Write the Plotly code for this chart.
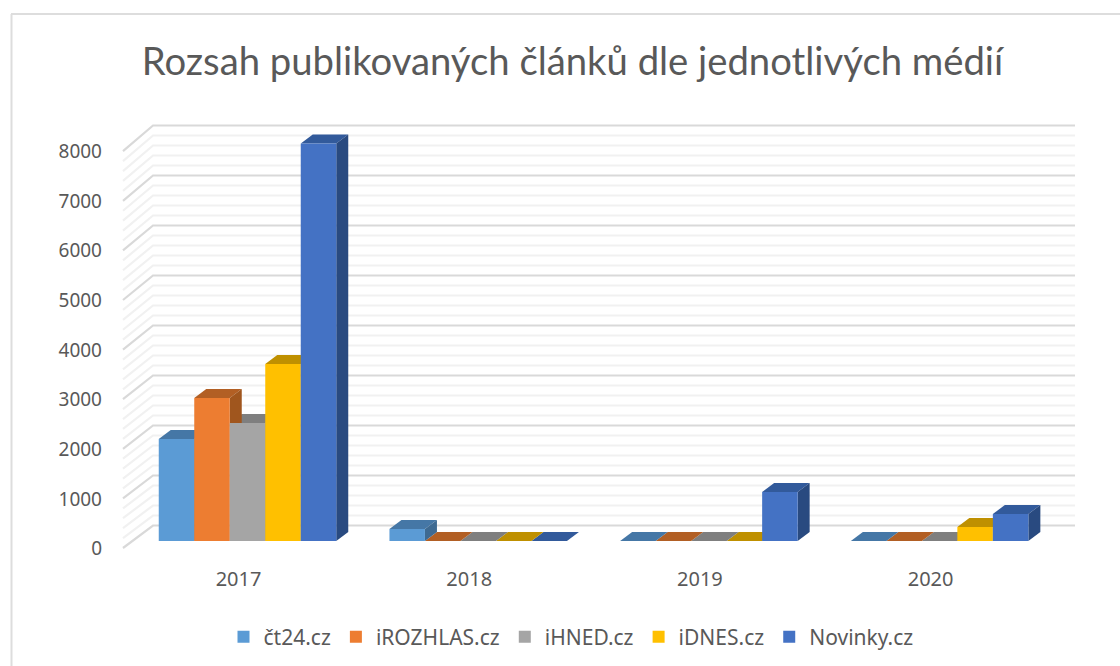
import plotly.graph_objects as go

years = ["2017", "2018", "2019", "2020"]
series_names = ["čt24.cz", "iROZHLAS.cz", "iHNED.cz", "iDNES.cz", "Novinky.cz"]
ct24 = [2040, 240, 0, 0]
irozhlas = [2860, 0, 0, 0]
ihned = [2360, 0, 0, 0]
idnes = [3540, 0, 0, 280]
novinky = [7950, 0, 980, 540]
all_values = [ct24, irozhlas, ihned, idnes, novinky]

front_colors = ["#5B9BD5", "#ED7D31", "#A5A5A5", "#FFC000", "#4472C4"]
top_colors = ["#4577A6", "#B25F24", "#7F7F7F", "#BF9000", "#325A9B"]
side_colors = ["#3E6A92", "#A0561E", "#727272", "#AB8200", "#294A80"]
y_ticks = list(range(0, 9000, 1000))
minor_ticks = [v for v in range(0, 8200, 200) if v % 1000]

W, H = 1120, 666
X0, DX = 238.5, 230.7           # pixel of first category, pixels per category
Y0, SY = 541.0, 0.05            # pixel of value 0 on the front plane, pixels per unit
BAR_W = 35.5 / DX
BAR_SHIFT = 9.0 / DX
DEPTH_X = 12 / DX
DEPTH_Y = 9 / SY
x_range = [-X0 / DX, (W - X0) / DX]
y_range = [(Y0 - H) / SY, Y0 / SY]

WALL_L = (123 - X0) / DX
WALL_B = (153 - X0) / DX
WALL_R = (1075 - X0) / DX
BACK_OFF = (Y0 - 525.5) / SY
FRONT_OFF = (Y0 - 548) / SY
FRONT_K = 0.992

TEXT = "#595959"
FONT = "Noto Sans"


def lines(vals):
    xs, ys = [], []
    for v in vals:
        xs += [WALL_L, WALL_B, WALL_R, None]
        ys += [FRONT_OFF + FRONT_K * v, BACK_OFF + v, BACK_OFF + v, None]
    return xs, ys


fig = go.Figure()
for vals, col in ((minor_ticks, "#F1F1F1"), (y_ticks, "#D9D9D9")):
    xs, ys = lines(vals)
    fig.add_trace(go.Scatter(x=xs, y=ys, mode="lines", line=dict(color=col, width=2.2),
                             showlegend=False, hoverinfo="skip"))

# top and side faces, painted from right to left
for s in range(4, -1, -1):
    for c in range(len(years)):
        v = all_values[s][c]
        left = c + BAR_SHIFT + (s - 2.5) * BAR_W
        right = left + BAR_W
        fig.add_trace(go.Scatter(
            x=[left, right, right + DEPTH_X, left + DEPTH_X, left],
            y=[v, v, v + DEPTH_Y, v + DEPTH_Y, v],
            mode="lines", fill="toself", fillcolor=top_colors[s], line=dict(width=0),
            showlegend=False, hoverinfo="skip"))
        if v > 0:
            fig.add_trace(go.Scatter(
                x=[right, right + DEPTH_X, right + DEPTH_X, right, right],
                y=[0, DEPTH_Y, v + DEPTH_Y, v, 0],
                mode="lines", fill="toself", fillcolor=side_colors[s], line=dict(width=0),
                showlegend=False, hoverinfo="skip"))

# front faces
for s, name in enumerate(series_names):
    fig.add_trace(go.Bar(
        x=list(range(len(years))), y=all_values[s], name=name,
        width=BAR_W, offset=BAR_SHIFT + (s - 2.5) * BAR_W,
        marker=dict(color=front_colors[s], line=dict(width=0)),
        xaxis="x2", yaxis="y2"))

# invisible carrier for the tick-label axis
fig.add_trace(go.Scatter(x=[0], y=[0], yaxis="y3", mode="markers", marker=dict(opacity=0),
                         showlegend=False, hoverinfo="skip"))

LBL_Y0, LBL_SY = 548.5, 0.049625
fig.update_layout(
    width=W, height=H, autosize=False,
    margin=dict(l=0, r=0, t=0, b=0),
    paper_bgcolor="white", plot_bgcolor="rgba(0,0,0,0)",
    barmode="overlay",
    font=dict(family=FONT, color=TEXT, size=19),
    title=dict(text="Rozsah publikovaných článků dle jednotlivých médií",
               x=572.5 / W, xanchor="center", y=1 - 62 / H, yanchor="middle",
               font=dict(family="Lato", size=38.25, color=TEXT)),
    xaxis=dict(range=x_range, tickmode="array", tickvals=list(range(len(years))), ticktext=years,
               showgrid=False, zeroline=False, showline=False, ticks="",
               anchor="free", position=1 - 565 / H, tickfont=dict(size=20, color=TEXT)),
    yaxis=dict(range=y_range, visible=False, fixedrange=True),
    xaxis2=dict(range=x_range, overlaying="x", visible=False),
    yaxis2=dict(range=y_range, overlaying="y", visible=False),
    yaxis3=dict(range=[(LBL_Y0 - H) / LBL_SY, LBL_Y0 / LBL_SY], overlaying="y",
                tickmode="array", tickvals=y_ticks, showgrid=False, zeroline=False,
                showline=False, ticks="", anchor="free", position=102 / W, side="left",
                tickfont=dict(size=19, color=TEXT)),
    legend=dict(orientation="h", x=571 / W, xanchor="center", y=1 - 637 / H, yanchor="middle",
                font=dict(size=21, color=TEXT), traceorder="normal"),
    shapes=[
        dict(type="line", xref="paper", yref="paper", x0=11.5 / W, x1=11.5 / W, y0=0, y1=1 - 14 / H,
             line=dict(color="#DDDDDD", width=2)),
        dict(type="line", xref="paper", yref="paper", x0=11 / W, x1=1, y0=1 - 14 / H, y1=1 - 14 / H,
             line=dict(color="#DDDDDD", width=2)),
    ],
)

fig.write_html("out.html", config={"displayModeBar": False},
               post_script="document.body.style.margin='0';")
